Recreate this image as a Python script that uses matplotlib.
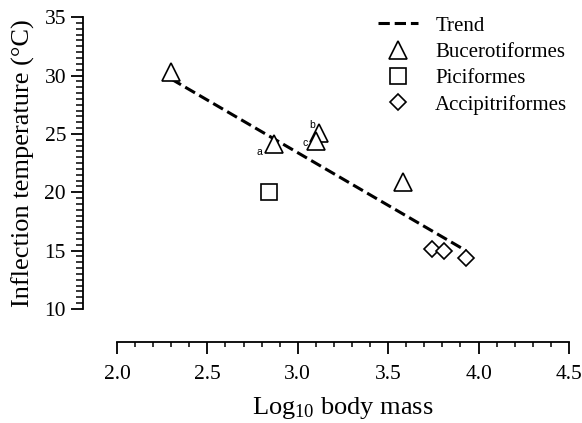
import matplotlib
matplotlib.use('Agg')
import matplotlib.pyplot as plt
from matplotlib.ticker import MultipleLocator

plt.rcParams['font.family'] = 'Liberation Serif'
plt.rcParams['mathtext.fontset'] = 'custom'
plt.rcParams['mathtext.rm'] = 'Liberation Serif'
plt.rcParams['mathtext.it'] = 'Liberation Serif:italic'

# --- DATA ---
bucero_x = [2.30, 2.87, 3.12, 3.10, 3.58]
bucero_y = [30.3, 24.1, 25.1, 24.4, 20.9]
pici_x = [2.84]
pici_y = [20.0]
accip_x = [3.74, 3.81, 3.93]
accip_y = [15.1, 15.0, 14.4]
trend_x = [2.30, 3.93]
trend_y = [29.7, 15.0]

point_labels = ['a', 'b', 'c']
point_label_x = [2.785, 3.078, 3.04]
point_label_y = [23.45, 25.75, 24.2]

# --- FIGURE ---
fig = plt.figure(figsize=(5.82, 4.23), dpi=100)
ax = fig.add_axes([0.201, 0.2695, 0.7766, 0.690])

ax.plot(trend_x, trend_y, '--', color='black', lw=2.2, label='Trend')
ax.plot(bucero_x, bucero_y, '^', ms=13, mfc='white', mec='black', mew=1.2,
        ls='none', label='Bucerotiformes')
ax.plot(pici_x, pici_y, 's', ms=11, mfc='white', mec='black', mew=1.2,
        ls='none', label='Piciformes')
ax.plot(accip_x, accip_y, 'D', ms=8.5, mfc='white', mec='black', mew=1.2,
        ls='none', label='Accipitriformes')

for lab, lx, ly in zip(point_labels, point_label_x, point_label_y):
    ax.text(lx, ly, lab, family='Liberation Sans', fontsize=7.5,
            ha='center', va='center')

ax.set_xlim(2.0, 4.5)
ax.set_ylim(10, 35)
ax.xaxis.set_major_locator(MultipleLocator(0.5))
ax.xaxis.set_minor_locator(MultipleLocator(0.1))
ax.yaxis.set_major_locator(MultipleLocator(5))
ax.yaxis.set_minor_locator(MultipleLocator(0.5))
ax.xaxis.set_major_formatter(plt.FormatStrFormatter('%.1f'))

for side in ['top', 'right']:
    ax.spines[side].set_visible(False)
ax.spines['left'].set_position(('outward', 24.5))
ax.spines['bottom'].set_position(('outward', 24))
ax.spines['left'].set_linewidth(1.3)
ax.spines['bottom'].set_linewidth(1.3)

ax.tick_params(which='major', direction='out', length=8.6, width=1.3,
               labelsize=15.5)
ax.tick_params(axis='y', which='major', pad=3.6)
ax.tick_params(axis='x', which='major', pad=7.5)
ax.tick_params(axis='y', which='minor', direction='out', length=5, width=1.1)
ax.tick_params(axis='x', which='minor', direction='out', length=3.6, width=1.1)

ax.set_xlabel('Log$_{10}$ body mass', fontsize=19, labelpad=8)
ax.set_ylabel('Inflection temperature (\u00b0C)', fontsize=19, labelpad=6.5)

fig.legend(loc='upper left', bbox_to_anchor=(378 / 582, 1 - 16 / 423),
           frameon=False, fontsize=15, borderpad=0, borderaxespad=0,
           labelspacing=0.32, handlelength=1.9, handletextpad=0.85)

fig.savefig('out.png', dpi=100)
